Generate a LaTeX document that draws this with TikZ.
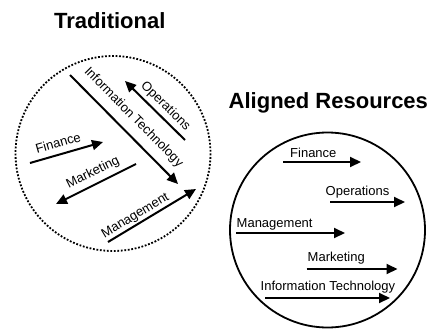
\documentclass[tikz,border=0pt]{standalone}
\usepackage{fontspec}
\setmainfont{Liberation Sans}
\usetikzlibrary{arrows.meta}

\tikzset{
  heading/.style={font=\fontsize{22}{26}\selectfont\bfseries, inner sep=0pt, anchor=base west},
  lbl/.style={font=\fontsize{13}{15}\selectfont, inner sep=0pt},
  flow/.style={line width=2pt, -{Triangle[length=11pt,width=10pt]}},
  plain/.style={line width=2pt},
  loose/.style={line width=1.8pt, dash pattern=on 1.8pt off 1.7pt},
  tight/.style={line width=1.8pt}
}

\begin{document}
\begin{tikzpicture}[x=1pt, y=-1pt]
  \useasboundingbox (0,0) rectangle (435,329);

  % ---------- Traditional: scattered resources ----------
  \node[heading] (trad) at (54,29) {Traditional};
  \draw[loose] (113,153.5) circle[radius=97.5];

  \coordinate (itA) at (70,75);     \coordinate (itB) at (178,184);
  \coordinate (opA) at (185,140);   \coordinate (opB) at (125,81);
  \coordinate (fiA) at (30,163);    \coordinate (fiB) at (103,142);
  \coordinate (maA) at (136,164);   \coordinate (maB) at (56,204);
  \coordinate (mgA) at (108,242);   \coordinate (mgB) at (196,189);

  \draw[flow] (itA) -- (itB);
  \draw[flow] (opA) -- (opB);
  \draw[flow] (fiA) -- (fiB);
  \draw[flow] (maA) -- (maB);
  \draw[flow] (mgA) -- (mgB);

  \node[lbl, rotate=-45.3] (itT) at (133.5,117.5) {Information Technology};
  \node[lbl, rotate=-44.5] (opT) at (165.5,106.5) {Operations};
  \node[lbl, rotate=16]    (fiT) at (58,143)      {Finance};
  \node[lbl, rotate=26.6]  (maT) at (93,173)      {Marketing};
  \node[lbl, rotate=31]    (mgT) at (135.5,216)   {Management};

  % ---------- Aligned Resources: parallel resources ----------
  \node[heading] (alig) at (228.5,108) {Aligned Resources};
  \draw[tight] (327.5,230) circle[radius=97.5];

  \coordinate (rfiA) at (283,162);   \coordinate (rfiB) at (361,162);
  \coordinate (ropA) at (330,202);   \coordinate (ropB) at (405,202);
  \coordinate (rmgA) at (236,233);   \coordinate (rmgB) at (345,233);
  \coordinate (rmaA) at (306.5,269); \coordinate (rmaB) at (397.5,269);
  \coordinate (ritA) at (265,298);   \coordinate (ritB) at (390,298);

  \draw[flow] (rfiA) -- (rfiB);
  \draw[flow] (ropA) -- (ropB);
  \draw[flow] (rmgA) -- (rmgB);
  \draw[flow] (rmaA) -- (rmaB);
  \draw[flow] (ritA) -- (ritB);

  \node[lbl, anchor=base west] (rfiT) at (290,157)   {Finance};
  \node[lbl, anchor=base west] (ropT) at (325.5,195) {Operations};
  \node[lbl, anchor=base west] (rmgT) at (236.5,227) {Management};
  \node[lbl, anchor=base west] (rmaT) at (307.5,261) {Marketing};
  \node[lbl, anchor=base west] (ritT) at (260.5,290.5) {Information Technology};
\end{tikzpicture}
\end{document}
